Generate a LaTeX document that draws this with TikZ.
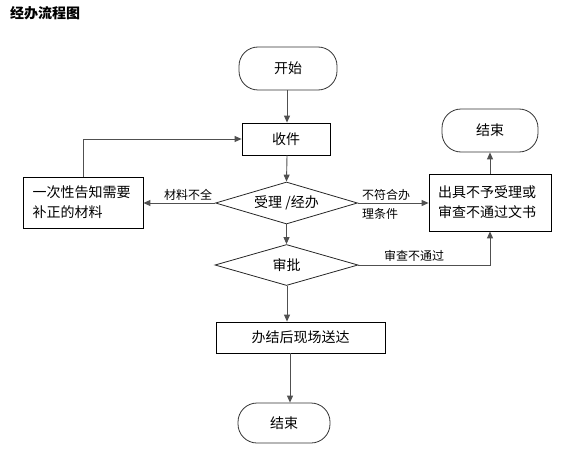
\documentclass[tikz,border=0pt]{standalone}
\usepackage{fontspec}
\setmainfont{Noto Sans CJK SC}
\usetikzlibrary{shapes.geometric,arrows.meta}
\definecolor{linec}{HTML}{505050}
\tikzset{
  boxtext/.style={font=\fontsize{14}{20}\selectfont},
  procbox/.style={draw=black, line width=0.8pt, rectangle, inner sep=0pt, boxtext},
  termbox/.style={draw=black!80, line width=0.8pt, rectangle, rounded corners=19pt, inner sep=0pt, boxtext},
  decbox/.style={draw=black!85, line width=0.8pt, diamond, aspect=3.5, inner sep=0pt, boxtext},
  arr/.style={draw=linec, line width=0.9pt, -{Triangle[length=7pt,width=6pt]}},
  lbl/.style={font=\fontsize{12}{19}\selectfont, inner sep=1pt}
}
\begin{document}
\begin{tikzpicture}[x=1pt,y=-1pt]
\useasboundingbox (0,0) rectangle (572,468);
\node[anchor=west, inner sep=0pt, font=\bfseries\fontsize{14}{16}\selectfont] (title) at (10,13) {经办流程图};
\node[termbox, minimum width=98pt, minimum height=43pt] (start) at (288,68.5) {开始};
\node[procbox, minimum width=88pt, minimum height=32pt] (recv) at (286,139) {收件};
\node[decbox, minimum width=142pt, minimum height=42pt] (d1) at (286.5,203) {受理 /经办};
\node[decbox, minimum width=143pt, minimum height=41pt] (d2) at (286.5,265) {审批};
\node[procbox, minimum width=169pt, minimum height=31pt] (done) at (300.5,337.5) {办结后现场送达};
\node[termbox, minimum width=92pt, minimum height=40pt] (end1) at (284,423) {结束};
\node[procbox, minimum width=120pt, minimum height=51pt, text width=101pt, align=left] (left) at (83,202.5) {一次性告知需要\\补正的材料};
\node[procbox, minimum width=122pt, minimum height=57pt, text width=104pt, align=left] (right) at (490,202.5) {出具不予受理或\\审查不通过文书};
\node[termbox, minimum width=96pt, minimum height=43pt] (end2) at (490,130.5) {结束};
\coordinate (vx) at (287,0);
\coordinate (vx2) at (290,0);
\draw[arr] (vx |- start.south) -- (vx |- recv.north);
\draw[arr] (vx |- recv.south) -- (d1.north);
\draw[arr] (d1.south) -- (d2.north);
\draw[arr] (vx |- d2.south) -- (vx |- done.north);
\draw[arr] (vx2 |- done.south) -- (vx2 |- end1.north);
\draw[arr] (d1.west) -- (d1.west -| left.east);
\draw[arr] (left.north) |- (recv.west);
\draw[arr] (d1.east) -- (d1.east -| right.west);
\draw[arr] (right.north) -- (end2.south);
\draw[arr] (d2.east) -| (right.south);
\node[lbl] (l1) at (188,195) {材料不全};
\node[lbl, anchor=west, align=left] (l2) at (361,204.5) {不符合办\\理条件};
\node[lbl] (l3) at (414,256) {审查不通过};
\end{tikzpicture}
\end{document}
